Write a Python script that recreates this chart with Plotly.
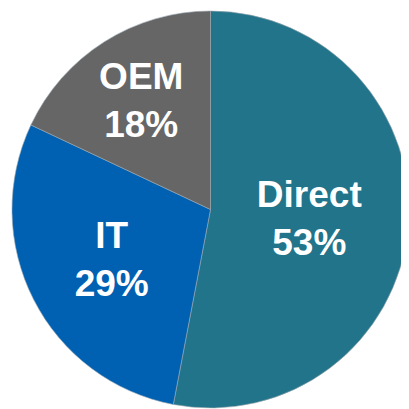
import plotly.graph_objects as go

labels = ["Direct", "IT", "OEM"]
values = [53, 29, 18]
colors = ["#22748a", "#0060b2", "#666666"]

fig = go.Figure(go.Pie(
    labels=labels,
    values=values,
    sort=False,
    direction="clockwise",
    rotation=0,
    marker=dict(colors=colors, line=dict(color="#9aa8b0", width=0.6)),
    texttemplate="%{label}<br>%{percent:.0%}",
    textposition="inside",
    insidetextorientation="horizontal",
    textfont=dict(family="Liberation Sans, Arial", size=37, color="white", weight="bold"),
    hoverinfo="skip",
    showlegend=False,
))

fig.update_layout(
    width=401, height=401,
    margin=dict(l=4, r=0, t=2, b=0),
    paper_bgcolor="white",
    plot_bgcolor="white",
)

fig.write_html("out.html")
